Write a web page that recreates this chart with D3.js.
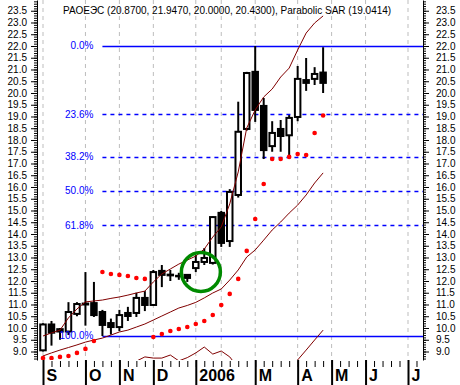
<!DOCTYPE html>
<html>
<head>
<meta charset="utf-8">
<script src="https://cdnjs.cloudflare.com/ajax/libs/d3/7.8.5/d3.min.js"></script>
<style>
  body { margin: 0; background: #fff; }
  svg { display: block; font-family: "Liberation Sans", Arial, sans-serif; }
</style>
</head>
<body>
<svg id="chart" width="460" height="385"></svg>
<script>
// weekly candles, index 0 = first week of Sep 2005
const opens  = [9.05, 10.15, 9.95, 9.85, 10.6, 11.04, 11.06, 10.68, 10.21, 10.04, 10.64, 10.64, 11.28, 10.98, 12.43, 12.27, 12.22,
                12.26, 12.55, 12.81, 12.77, 14.9, 13.7, 15.66, 18.47, 20.9, 19.45, 17.74, 18.47, 18.2, 18.98, 20.55, 20.6, 20.87];
const highs  = [10.2, 10.3, 10.0, 11.1, 11.1, 12.38, 11.96, 10.77, 10.4, 10.77, 10.9, 11.5, 11.57, 12.47, 12.68, 12.47, 12.35,
                12.27, 13.1, 13.4, 14.75, 14.98, 15.91, 19.63, 20.9, 22.0, 19.79, 18.8, 18.85, 19.06, 21.15, 21.49, 21.1, 21.947];
const lows   = [9.0, 9.25, 9.5, 9.7, 10.5, 10.1, 10.47, 9.66, 9.72, 9.87, 10.3, 10.47, 10.72, 10.94, 11.74, 12.0, 12.05,
                11.96, 12.38, 12.68, 12.7, 13.45, 13.45, 15.55, 18.4, 18.77, 17.19, 17.5, 17.5, 17.28, 18.8, 20.09, 20.34, 20.0];
const closes = [10.15, 9.8, 9.85, 10.68, 11.02, 11.0, 10.55, 10.13, 10.04, 10.55, 10.51, 11.28, 10.98, 12.38, 12.26, 12.24, 12.2,
                12.13, 12.81, 12.98, 14.72, 13.62, 15.79, 18.35, 20.85, 19.28, 17.57, 18.3, 18.17, 18.94, 20.6, 20.43, 20.81, 20.43];

// Parabolic SAR
const sar = [8.72, 8.72, 8.77, 8.81, 8.94, 9.11, 9.45, 12.38, 12.30, 12.26, 12.21, 12.13, 12.09, 9.62, 9.74, 9.87, 9.96,
             10.04, 10.17, 10.30, 10.55, 10.98, 11.45, 12.09, 13.28, 14.64, 16.13, 17.19, 17.19, 17.28, 17.40, 17.36, 18.30, 19.04];

// Bollinger bands
const bandUpper = [9.66, 9.79, 9.91, 10.43, 10.81, 11.11, 11.15, 11.19, 11.26, 11.32, 11.40, 11.49, 11.57, 11.96, 12.30, 12.51, 12.72,
                   12.89, 13.06, 13.36, 13.87, 14.30, 15.28, 16.64, 18.51, 19.28, 19.83, 20.17, 20.68, 21.06, 21.83, 22.55, 22.98, 23.28];
const bandMid   = [8.81, 8.94, 9.06, 9.17, 9.28, 9.40, 9.49, 9.57, 9.70, 9.83, 9.91, 10.04, 10.17, 10.34, 10.51, 10.68, 10.85,
                   10.96, 11.09, 11.28, 11.49, 11.66, 12.04, 12.47, 13.02, 13.32, 13.74, 14.17, 14.51, 14.89, 15.23, 15.66, 16.17, 16.60];
const bandLower = [7.96, 8.09, 8.21, 7.91, 7.75, 7.69, 7.83, 7.95, 8.14, 8.34, 8.42, 8.59, 8.77, 8.72, 8.72, 8.85, 8.6,
                   8.74, 8.94, 9.19, 8.89, 9.02, 8.77, 8.3, 7.53, 7.36, 7.65, 8.17, 8.34, 8.3, 8.64, 9.06, 9.49, 9.91];

// axis
const gridWeeks  = [0, 5, 9, 13, 18, 21, 25, 30, 34, 38, 43];
const monthWeeks = [0, 5, 9, 13, 18, 25, 30, 34, 38, 43];
const monthNames = ["S", "O", "N", "D", "2006", "M", "A", "M", "J", "J"];
const allWeeks = d3.range(0, 45);

// fibonacci retracement
const fibLevels = [0, 0.236, 0.382, 0.5, 0.618, 1];
const fibStart = 7;
const fibHigh = highs[25];
const fibLow = lows[7];

const title = "РАОЕЭС (20.8700, 21.9470, 20.0000, 20.4300), Parabolic SAR (19.0414)";

const plot = { left: 37, right: 423, top: 0, bottom: 360 };

const svg = d3.select("#chart");
const x = d3.scaleLinear().domain([0, 43]).range([43, 408]);
const y = d3.scaleLinear().domain([8.6383, 23.9574]).range([plot.bottom, plot.top]);

svg.append("defs").append("clipPath").attr("id", "clip")
  .append("rect")
  .attr("x", plot.left).attr("y", plot.top)
  .attr("width", plot.right - plot.left).attr("height", plot.bottom - plot.top);

// vertical grid
svg.append("g").selectAll("line").data(gridWeeks).enter().append("line")
  .attr("x1", d => x(d)).attr("x2", d => x(d))
  .attr("y1", plot.top).attr("y2", plot.bottom)
  .attr("stroke", "#bdbdbd").attr("stroke-dasharray", "4,4");

// fib lines
const fibs = fibLevels.map(l => ({ level: l, value: fibHigh - l * (fibHigh - fibLow) }));
svg.append("g").selectAll("line").data(fibs).enter().append("line")
  .attr("x1", x(fibStart)).attr("x2", plot.right)
  .attr("y1", d => Math.round(y(d.value)) + 0.5).attr("y2", d => Math.round(y(d.value)) + 0.5)
  .attr("stroke", "#0000ff").attr("stroke-width", 1.3)
  .attr("stroke-dasharray", d => (d.level === 0 || d.level === 1) ? null : "4,4");

// candles
const candles = opens.map((o, i) => ({ i, o, h: highs[i], l: lows[i], c: closes[i] }));
const cg = svg.append("g").attr("clip-path", "url(#clip)");
const bodyW = 5.5;
cg.selectAll(".wick").data(candles).enter().append("line")
  .attr("class", "wick")
  .attr("x1", d => x(d.i)).attr("x2", d => x(d.i))
  .attr("y1", d => y(d.h)).attr("y2", d => y(d.l))
  .attr("stroke", "#000").attr("stroke-width", 2);
cg.selectAll(".body").data(candles).enter().append("rect")
  .attr("class", "body")
  .attr("x", d => x(d.i) - bodyW / 2)
  .attr("width", bodyW)
  .attr("y", d => y(Math.max(d.o, d.c)))
  .attr("height", d => Math.max(0.5, Math.abs(y(d.o) - y(d.c))))
  .attr("fill", d => d.c > d.o ? "#fff" : "#000")
  .attr("stroke", "#000").attr("stroke-width", 2);

// bands
const line = d3.line().x((d, i) => x(i)).y(d => y(d));
const bg = svg.append("g").attr("clip-path", "url(#clip)");
[bandUpper, bandMid, bandLower].forEach(s => {
  bg.append("path").datum(s).attr("d", line)
    .attr("fill", "none").attr("stroke", "#800000").attr("stroke-width", 1);
});

// SAR
svg.append("g").attr("clip-path", "url(#clip)")
  .selectAll("circle").data(sar).enter().append("circle")
  .attr("cx", (d, i) => x(i)).attr("cy", d => y(d))
  .attr("r", 2.3).attr("fill", "#ff0000");

// annotation circle
svg.append("circle")
  .attr("cx", x(18.6)).attr("cy", y(12.38)).attr("r", 19.5)
  .attr("fill", "none").attr("stroke", "#008a00").attr("stroke-width", 3.5);

// fib labels
svg.append("g").selectAll("text").data(fibs).enter().append("text")
  .attr("x", x(fibStart) - 9).attr("y", d => y(d.value))
  .attr("dy", "0.35em").attr("text-anchor", "end")
  .attr("fill", "#0000ff").attr("font-size", 10)
  .text(d => d3.format(".1%")(d.level));

// y axes
const major = d3.range(18, 48).map(d => d / 2);
const minor = d3.range(87, 240).map(d => d / 10);

function yAxes(axisFn, xPos, labels) {
  const gMinor = svg.append("g").attr("transform", `translate(${xPos},0)`)
    .call(axisFn(y).tickValues(minor).tickSize(3).tickSizeOuter(0).tickFormat(""));
  gMinor.select(".domain").attr("stroke", "#000");
  const g = svg.append("g").attr("transform", `translate(${xPos},0)`)
    .call(axisFn(y).tickValues(major).tickSize(6).tickSizeOuter(0).tickPadding(labels)
      .tickFormat(d3.format(".1f")));
  g.select(".domain").remove();
  g.selectAll("text").attr("font-size", 10).attr("font-family", "Liberation Sans, Arial, sans-serif");
}
yAxes(d3.axisLeft, plot.left, 4);
yAxes(d3.axisRight, plot.right, 7);

// x axis: weekly ticks
const wk = svg.append("g").attr("transform", `translate(0,${plot.bottom + 1})`)
  .call(d3.axisBottom(x).tickValues(allWeeks).tickSize(6).tickFormat(""));
wk.select(".domain").remove();

// month ticks and labels
const mg = svg.append("g").attr("transform", `translate(0,${plot.bottom})`)
  .call(d3.axisBottom(x).tickValues(monthWeeks).tickSize(26)
    .tickFormat((d, i) => monthNames[i]));
mg.select(".domain").remove();
mg.selectAll("line").attr("stroke-width", 2);
mg.selectAll("text")
  .attr("x", 3).attr("y", 21).attr("dy", null)
  .attr("text-anchor", "start")
  .attr("font-size", 16).attr("font-weight", "bold")
  .attr("font-family", "Liberation Sans, Arial, sans-serif")
  .attr("fill", "#000");

// title
svg.append("text")
  .attr("x", 63).attr("y", 14)
  .attr("font-size", 10).attr("fill", "#000")
  .text(title);
</script>
</body>
</html>
